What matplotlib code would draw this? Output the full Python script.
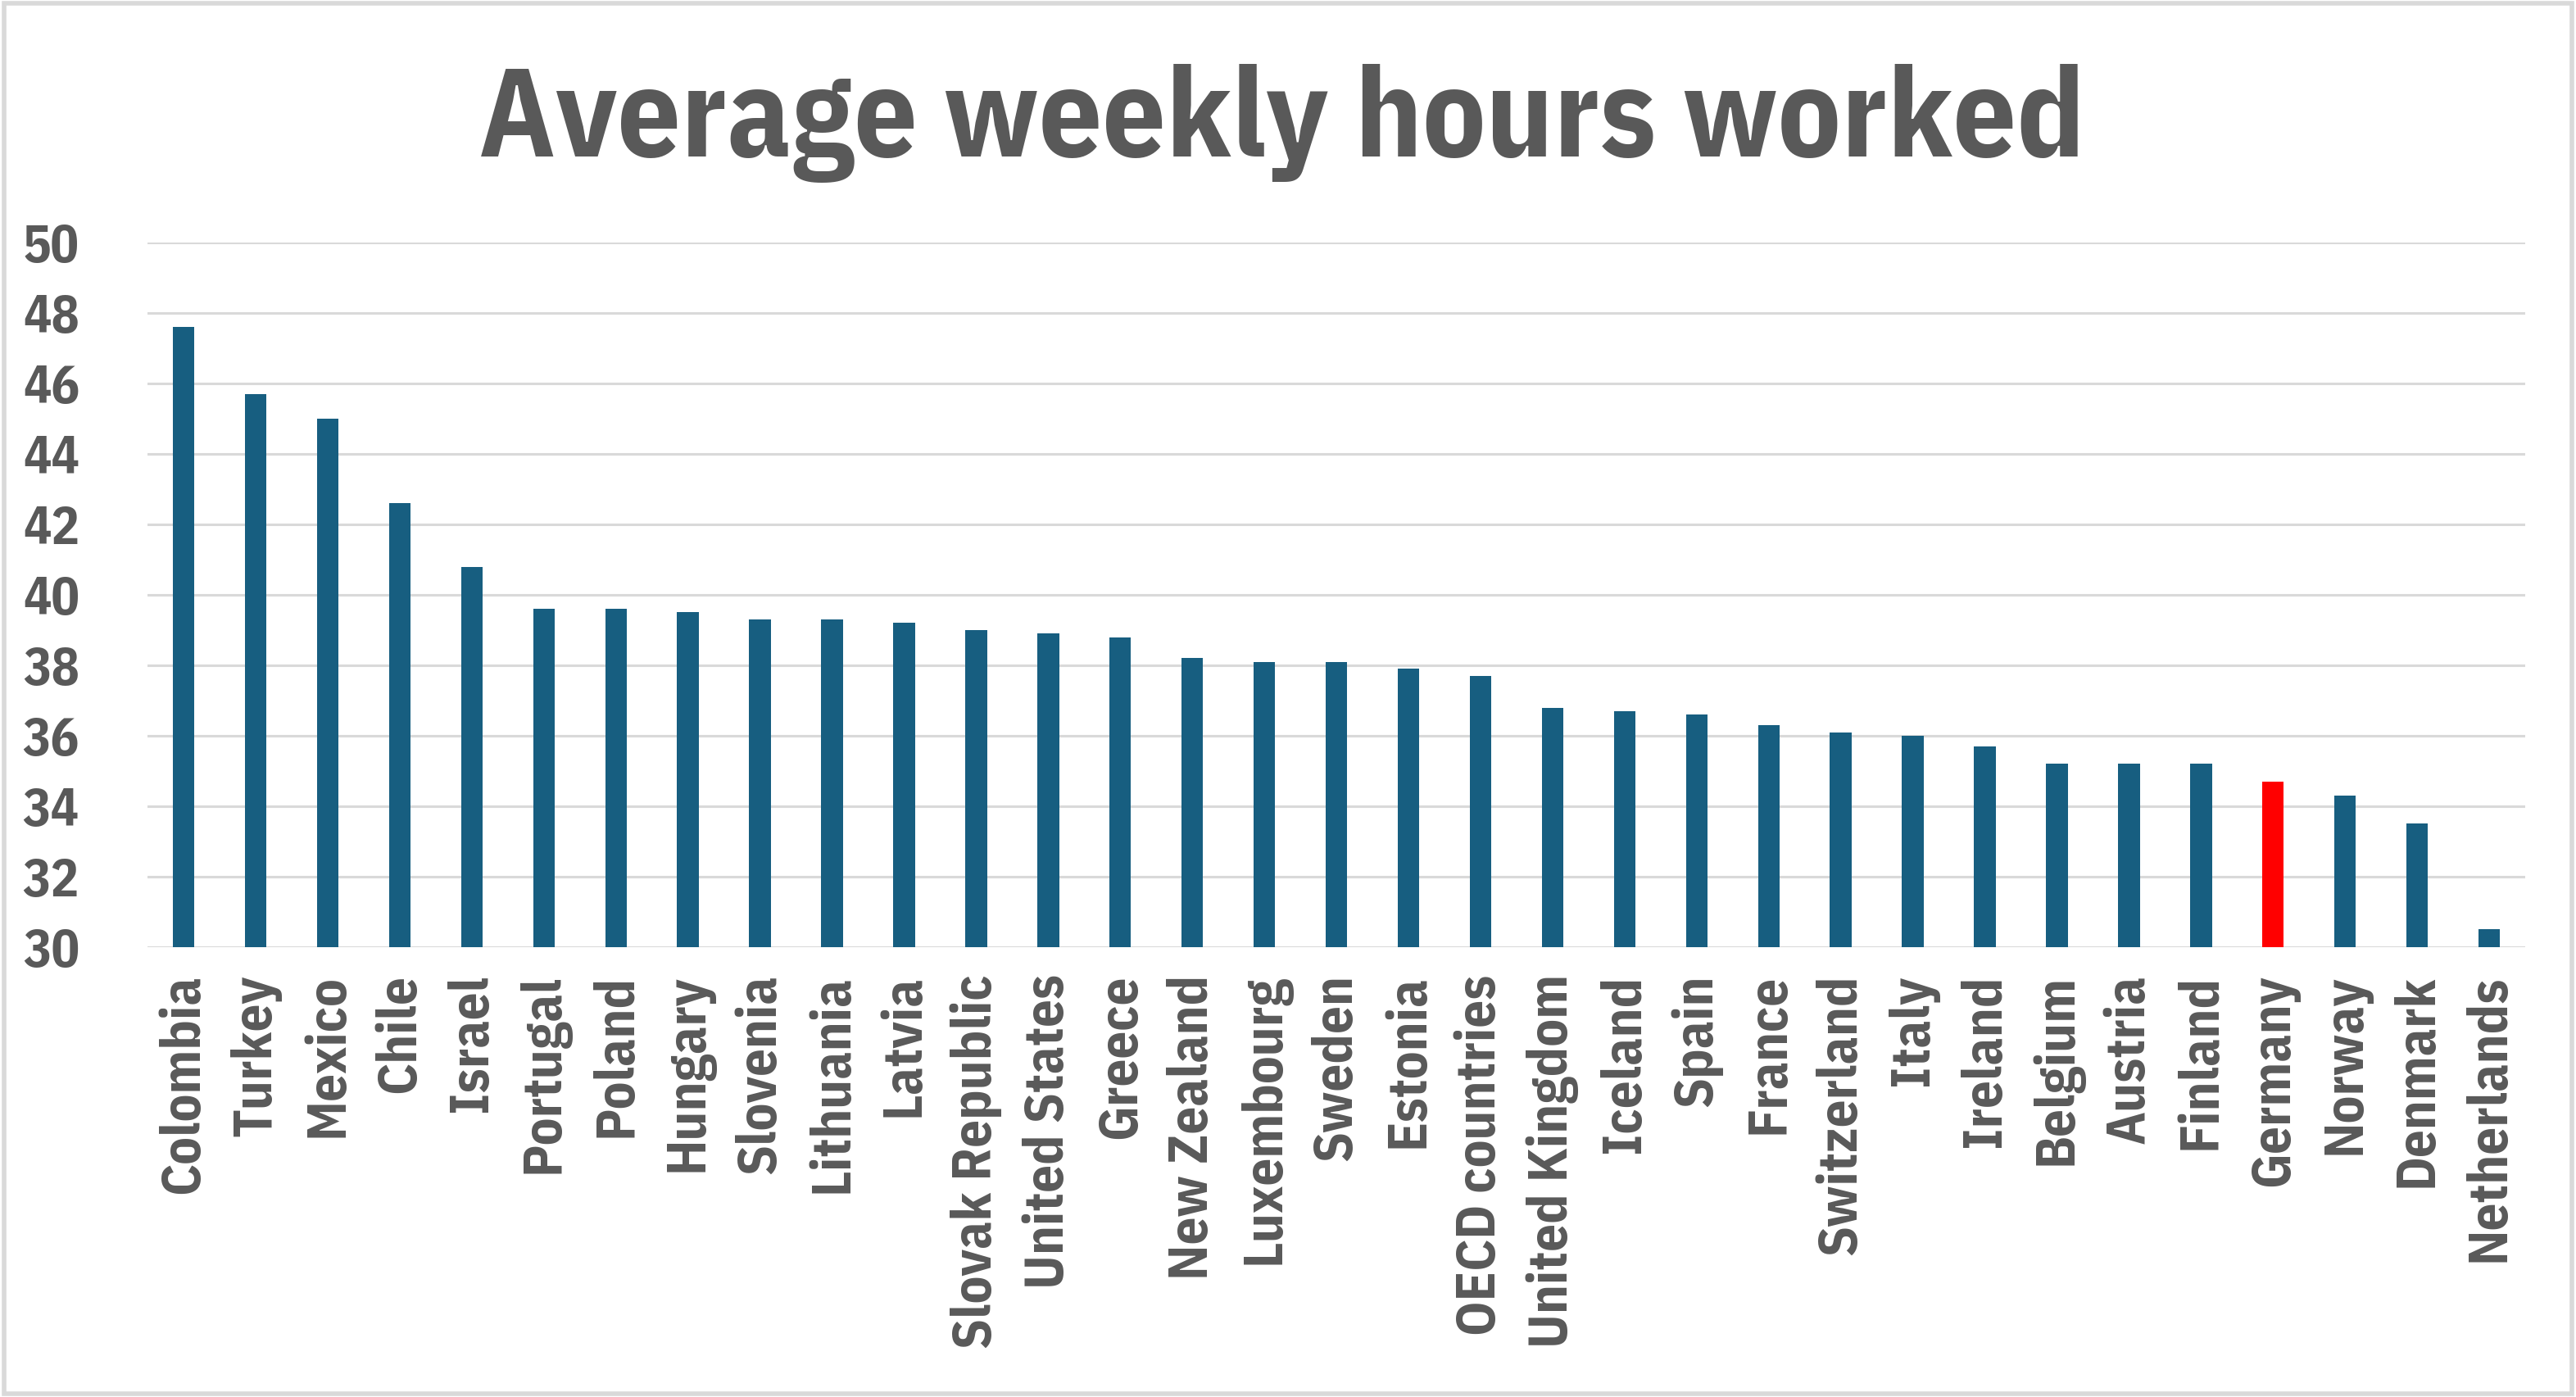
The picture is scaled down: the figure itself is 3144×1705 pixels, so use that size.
import matplotlib
matplotlib.use("Agg")
import matplotlib.pyplot as plt
from matplotlib.patches import Rectangle

countries = ["Colombia", "Turkey", "Mexico", "Chile", "Israel", "Portugal", "Poland",
             "Hungary", "Slovenia", "Lithuania", "Latvia", "Slovak Republic",
             "United States", "Greece", "New Zealand", "Luxembourg", "Sweden", "Estonia",
             "OECD countries", "United Kingdom", "Iceland", "Spain", "France",
             "Switzerland", "Italy", "Ireland", "Belgium", "Austria", "Finland",
             "Germany", "Norway", "Denmark", "Netherlands"]
hours = [47.6, 45.7, 45.0, 42.6, 40.8, 39.6, 39.6,
         39.5, 39.3, 39.3, 39.2, 39.0,
         38.9, 38.8, 38.2, 38.1, 38.1, 37.9,
         37.7, 36.8, 36.7, 36.6, 36.3,
         36.1, 36.0, 35.7, 35.2, 35.2, 35.2,
         34.7, 34.3, 33.5, 30.5]
highlight = "Germany"
yticks = list(range(30, 51, 2))

# narrow bold font like the original (Arial Narrow Bold)
fonts = ["IBM Plex Sans Condensed", "Open Sans Condensed", "Liberation Sans", "DejaVu Sans"]
txt = "#595959"

fig = plt.figure(figsize=(15.72, 8.525), dpi=200)
ax = fig.add_axes([0.0573, 0.322, 0.923, 0.5044])

colors = ["#FF0000" if c == highlight else "#175E80" for c in countries]
ax.bar(range(len(countries)), [h - 30 for h in hours], bottom=30, width=0.3,
       color=colors, zorder=3)

ax.set_xlim(-0.5, len(countries) - 0.5)
ax.set_ylim(30, 50)
ax.set_yticks(yticks)
ax.set_yticklabels([str(t) for t in yticks], family=fonts, fontsize=23,
                   fontweight="bold", color=txt)
ax.set_xticks(range(len(countries)))
ax.set_xticklabels(countries, rotation=90, family=fonts, fontsize=24,
                   fontweight="bold", color=txt)
ax.tick_params(axis="y", length=0, pad=30)
ax.tick_params(axis="x", length=0, pad=12)
ax.grid(axis="y", color="#D9D9D9", linewidth=1.1, zorder=0)
for s in ax.spines.values():
    s.set_visible(False)

fig.text(0.4975, 0.888, "Average weekly hours worked", ha="center", va="baseline",
         family=fonts, fontsize=55, fontweight="bold", color=txt)

fig.add_artist(Rectangle((0.0015, 0.0025), 0.997, 0.995, transform=fig.transFigure,
                         fill=False, ec="#D9D9D9", lw=2))

fig.savefig("out.png", dpi=200, facecolor="white")
